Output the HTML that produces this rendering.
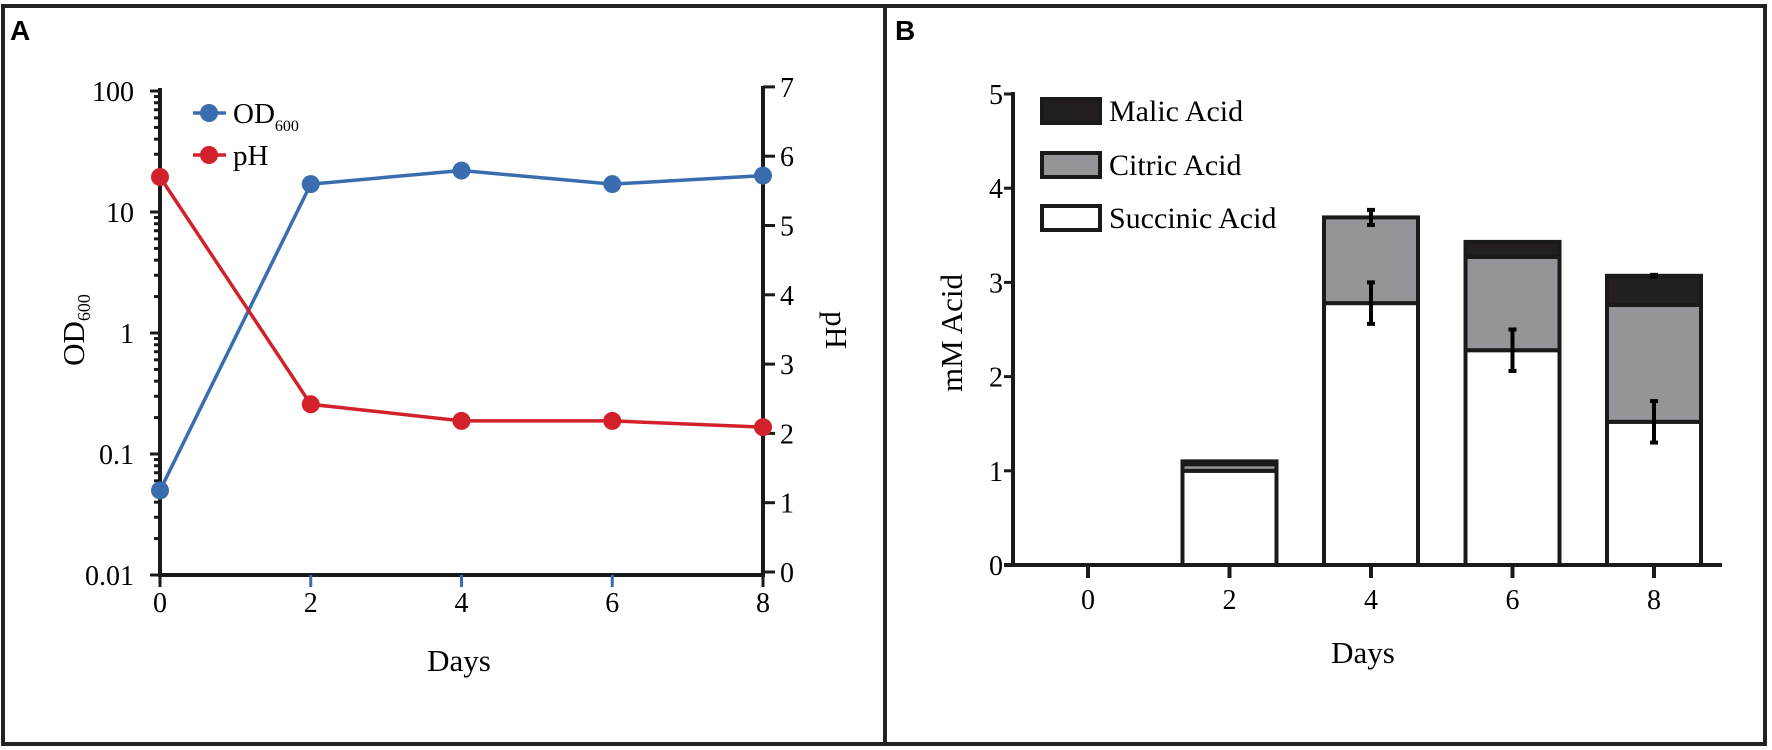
<!DOCTYPE html>
<html><head><meta charset="utf-8"><style>
html,body{margin:0;padding:0;background:#fff}
svg{display:block;font-family:"Liberation Serif",serif}
</style></head><body>
<svg id="c" width="1772" height="750" viewBox="0 0 1772 750" xmlns="http://www.w3.org/2000/svg">
<rect x="3" y="6" width="1762" height="738" fill="none" stroke="#222" stroke-width="4"/>
<line x1="885" y1="6" x2="885" y2="744" stroke="#222" stroke-width="4"/>
<text x="10" y="40" font-family="Liberation Sans,sans-serif" font-weight="bold" font-size="28">A</text>
<text x="895" y="40" font-family="Liberation Sans,sans-serif" font-weight="bold" font-size="28">B</text>
<g id="ga"></g>
<g id="gb"></g>
</svg>
<script>
const days = [0, 2, 4, 6, 8];
const odValues = [0.05, 17, 22, 17, 20];
const phValues = [5.7, 2.42, 2.18, 2.18, 2.09];
const odTicks = [0.01, 0.1, 1, 10, 100];
const odTickLabels = ["0.01", "0.1", "1", "10", "100"];
const phTicks = [0, 1, 2, 3, 4, 5, 6, 7];
const barDays = [0, 2, 4, 6, 8];
const succinic = [0, 1.0, 2.78, 2.28, 1.52];
const citric = [0, 0.07, 0.91, 0.99, 1.24];
const malic = [0, 0.03, 0, 0.16, 0.31];
const succErr = [0, 0, 0.22, 0.22, 0.22];
const citErr = [0, 0, 0.08, 0, 0];
const malErr = [0, 0, 0, 0, 0.01];
const acidTicks = [0, 1, 2, 3, 4, 5];

const NS = "http://www.w3.org/2000/svg";
function mk(parent, tag, attrs, text) {
  const e = document.createElementNS(NS, tag);
  for (const k in attrs) e.setAttribute(k, attrs[k]);
  if (text !== undefined) e.textContent = text;
  parent.appendChild(e);
  return e;
}
const ga = document.getElementById('ga');
const gb = document.getElementById('gb');
const blue = '#3a6db0', red = '#d3212b', ink = '#1a1a1a';

const ax = d => 160 + d / 8 * 603;
const ayOD = v => 575 - (Math.log10(v) + 2) * 121;
const ayPH = v => 572 - v * 69.3;

let e;
e = mk(ga, 'line', {x1:160, y1:88, x2:160, y2:577, stroke:ink, 'stroke-width':4});
 
e = mk(ga, 'line', {x1:158, y1:575, x2:765, y2:575, stroke:ink, 'stroke-width':4});
 
e = mk(ga, 'line', {x1:763, y1:86, x2:763, y2:577, stroke:ink, 'stroke-width':4});
 
for (let dec = -2; dec < 2; dec++) {
  for (let m = 1; m <= 9; m++) {
    const v = m * Math.pow(10, dec);
    const y = ayOD(v);
    e = mk(ga, 'line', {x1:m===1?150:154, y1:y, x2:160, y2:y, stroke:ink, 'stroke-width':3});
     
  }
}
e = mk(ga, 'line', {x1:150, y1:ayOD(100), x2:160, y2:ayOD(100), stroke:ink, 'stroke-width':3});
 
odTicks.forEach((t, i) => {
  e = mk(ga, 'text', {x:134, y:ayOD(t)+10, 'text-anchor':'end', 'font-size':28}, odTickLabels[i]);
   
});
phTicks.forEach(t => {
  e = mk(ga, 'line', {x1:763, y1:ayPH(t), x2:775, y2:ayPH(t), stroke:ink, 'stroke-width':3});
   
  e = mk(ga, 'text', {x:780, y:ayPH(t)+10, 'font-size':28}, String(t));
   
});
days.forEach(d => {
  e = mk(ga, 'line', {x1:ax(d), y1:575, x2:ax(d), y2:587, stroke:d===0||d===8?ink:blue, 'stroke-width':3});
   
  e = mk(ga, 'text', {x:ax(d), y:612, 'text-anchor':'middle', 'font-size':28}, String(d));
   
});
e = mk(ga, 'text', {x:459, y:671, 'text-anchor':'middle', 'font-size':31}, 'Days');
 
e = mk(ga, 'text', {transform:'translate(84,330) rotate(-90)', 'text-anchor':'middle', 'font-size':31});
 
e.innerHTML = 'OD<tspan font-size="18" dy="6">600</tspan>';
e = mk(ga, 'text', {transform:'translate(826,330) rotate(90)', 'text-anchor':'middle', 'font-size':31}, 'pH');
 

function series(vals, yf, col, name) {
  const pts = vals.map((v, i) => ax(days[i]) + ',' + yf(v)).join(' ');
  e = mk(ga, 'polyline', {points:pts, fill:'none', stroke:col, 'stroke-width':3.5});
   
  vals.forEach((v, i) => {
    e = mk(ga, 'circle', {cx:ax(days[i]), cy:yf(v), r:9, fill:col});
     
  });
}
series(odValues, ayOD, blue, 'od600');
series(phValues, ayPH, red, 'ph');

e = mk(ga, 'line', {x1:193, y1:113, x2:226, y2:113, stroke:blue, 'stroke-width':3.5});
 
e = mk(ga, 'circle', {cx:209, cy:113, r:9, fill:blue});
 
e = mk(ga, 'text', {x:233, y:123, 'font-size':29});
 
e.innerHTML = 'OD<tspan font-size="16" dy="8">600</tspan>';
e = mk(ga, 'line', {x1:193, y1:155, x2:226, y2:155, stroke:red, 'stroke-width':3.5});
 
e = mk(ga, 'circle', {cx:209, cy:155, r:9, fill:red});
 
e = mk(ga, 'text', {x:233, y:165, 'font-size':29}, 'pH');
 

const bx = d => 1088 + d / 2 * 141.5;
const by = v => 565 - v * 94.2;
const bw = 94;
barDays.forEach((d, i) => {
  const x = bx(d) - bw / 2;
  const s = succinic[i], c = citric[i], m = malic[i];
  if (s + c + m <= 0) return;
  if (s > 0) {
    e = mk(gb, 'rect', {x:x, y:by(s), width:bw, height:by(0)-by(s), fill:'#fff', stroke:ink, 'stroke-width':4});
     
  }
  if (c > 0) {
    e = mk(gb, 'rect', {x:x, y:by(s+c), width:bw, height:by(s)-by(s+c), fill:'#939598', stroke:ink, 'stroke-width':4});
     
  }
  if (m > 0) {
    e = mk(gb, 'rect', {x:x, y:by(s+c+m), width:bw, height:by(s+c)-by(s+c+m), fill:'#231f20', stroke:ink, 'stroke-width':4});
     
  }
  [[s, succErr[i]], [s+c, citErr[i]], [s+c+m, malErr[i]]].forEach(([v, er]) => {
    if (er <= 0) return;
    e = mk(gb, 'line', {x1:bx(d), y1:by(v-er), x2:bx(d), y2:by(v+er), stroke:'#000', 'stroke-width':4});
     
    [v-er, v+er].forEach(w => {
      e = mk(gb, 'line', {x1:bx(d)-4, y1:by(w), x2:bx(d)+4, y2:by(w), stroke:'#000', 'stroke-width':4});
       
    });
  });
});
e = mk(gb, 'line', {x1:1013, y1:92, x2:1013, y2:567, stroke:ink, 'stroke-width':4});
 
e = mk(gb, 'line', {x1:1004, y1:565, x2:1722, y2:565, stroke:ink, 'stroke-width':4});
 
acidTicks.forEach(t => {
  e = mk(gb, 'line', {x1:1004, y1:by(t), x2:1013, y2:by(t), stroke:ink, 'stroke-width':3});
   
  e = mk(gb, 'text', {x:1003, y:by(t)+10, 'text-anchor':'end', 'font-size':28}, String(t));
   
});
barDays.forEach(d => {
  e = mk(gb, 'line', {x1:bx(d), y1:565, x2:bx(d), y2:578, stroke:ink, 'stroke-width':4});
   
  e = mk(gb, 'text', {x:bx(d), y:609, 'text-anchor':'middle', 'font-size':28}, String(d));
   
});
e = mk(gb, 'text', {x:1363, y:663, 'text-anchor':'middle', 'font-size':31}, 'Days');
 
e = mk(gb, 'text', {transform:'translate(962,333) rotate(-90)', 'text-anchor':'middle', 'font-size':31}, 'mM Acid');
 
const legendItems = [['Malic Acid', '#231f20', 111], ['Citric Acid', '#939598', 165], ['Succinic Acid', '#fff', 218]];
legendItems.forEach(([lab, col, cy]) => {
  e = mk(gb, 'rect', {x:1042, y:cy-12, width:58, height:24, fill:col, stroke:ink, 'stroke-width':4});
   
  e = mk(gb, 'text', {x:1109, y:cy+10, 'font-size':30}, lab);
   
});
</script>
</body></html>
